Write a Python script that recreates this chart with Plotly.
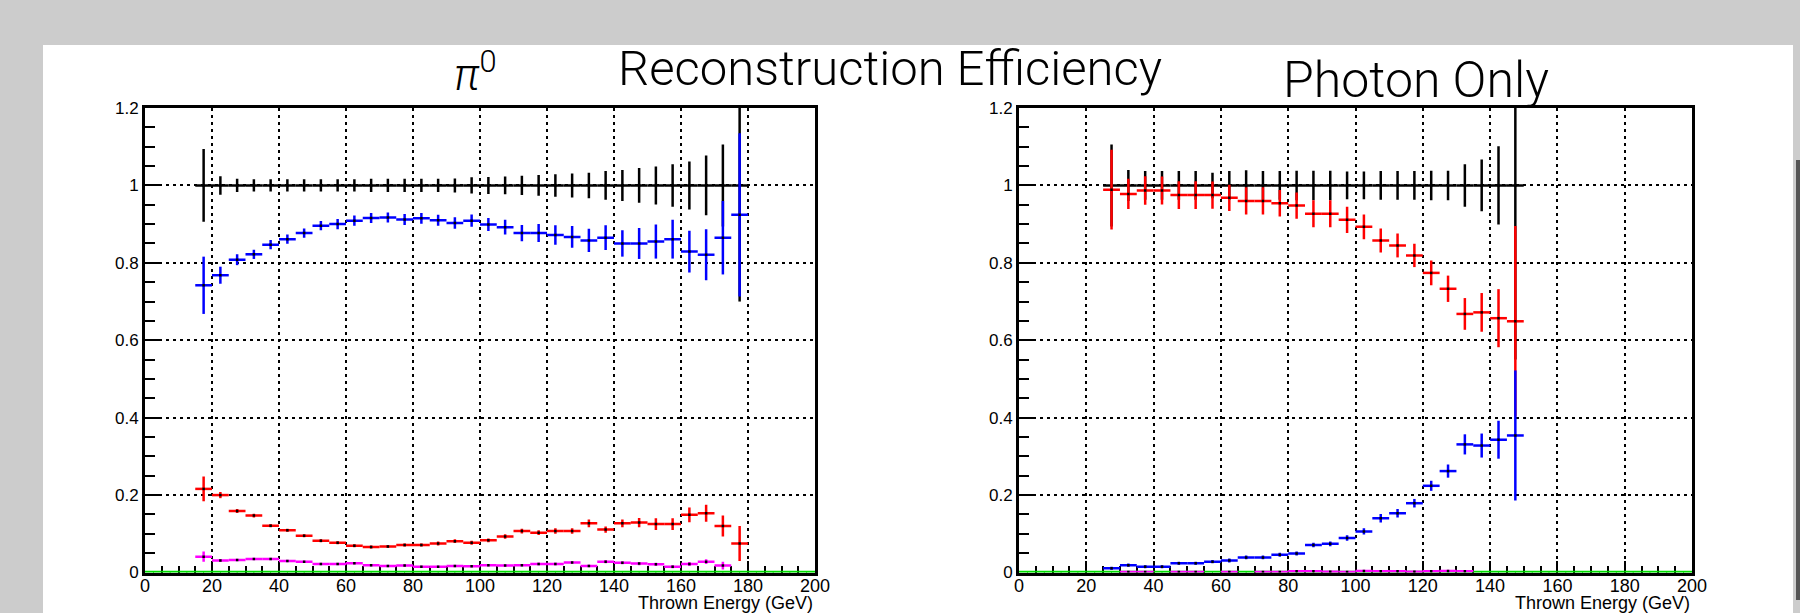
import plotly.graph_objects as go

# ---------------- data ----------------
left_x = [17.5, 22.5, 27.5, 32.5, 37.5, 42.5, 47.5, 52.5, 57.5, 62.5, 67.5, 72.5, 77.5, 82.5, 87.5,
          92.5, 97.5, 102.5, 107.5, 112.5, 117.5, 122.5, 127.5, 132.5, 137.5, 142.5, 147.5, 152.5,
          157.5, 162.5, 167.5, 172.5, 177.5]
left_black = [1.0] * 33
left_black_err = [0.094, 0.024, 0.017, 0.016, 0.016, 0.016, 0.016, 0.016, 0.016, 0.016, 0.017, 0.017,
                  0.017, 0.017, 0.017, 0.018, 0.021, 0.022, 0.023, 0.025, 0.027, 0.029, 0.031, 0.033,
                  0.037, 0.040, 0.045, 0.049, 0.055, 0.062, 0.077, 0.106, 0.30]
left_blue = [0.742, 0.768, 0.808, 0.822, 0.847, 0.861, 0.877, 0.896, 0.900, 0.909, 0.916, 0.917, 0.912,
             0.915, 0.910, 0.903, 0.909, 0.899, 0.892, 0.877, 0.877, 0.872, 0.867, 0.858, 0.865, 0.850,
             0.850, 0.855, 0.861, 0.829, 0.821, 0.865, 0.924]
left_blue_err = [0.074, 0.022, 0.014, 0.012, 0.012, 0.012, 0.012, 0.012, 0.013, 0.013, 0.013, 0.013,
                 0.014, 0.014, 0.014, 0.015, 0.016, 0.017, 0.019, 0.021, 0.023, 0.025, 0.028, 0.030,
                 0.032, 0.034, 0.040, 0.044, 0.050, 0.054, 0.066, 0.095, 0.211]
left_red = [0.216, 0.200, 0.159, 0.147, 0.121, 0.109, 0.095, 0.082, 0.077, 0.069, 0.066, 0.067, 0.071,
            0.071, 0.075, 0.081, 0.077, 0.083, 0.093, 0.107, 0.103, 0.107, 0.107, 0.127, 0.111, 0.127,
            0.129, 0.125, 0.125, 0.149, 0.153, 0.120, 0.075]
left_red_err = [0.032, 0.008, 0.005, 0.005, 0.004, 0.004, 0.004, 0.004, 0.004, 0.004, 0.004, 0.004,
                0.004, 0.004, 0.005, 0.005, 0.005, 0.005, 0.006, 0.006, 0.006, 0.007, 0.007, 0.010,
                0.008, 0.010, 0.012, 0.015, 0.015, 0.019, 0.022, 0.027, 0.045]
left_mag_x = left_x[:32]
left_mag = [0.041, 0.031, 0.032, 0.035, 0.035, 0.030, 0.028, 0.022, 0.022, 0.024, 0.019, 0.017, 0.018,
            0.015, 0.015, 0.017, 0.016, 0.019, 0.018, 0.019, 0.022, 0.022, 0.026, 0.017, 0.028, 0.025,
            0.023, 0.021, 0.015, 0.022, 0.028, 0.018]
left_mag_err = [0.013, 0.003, 0.002, 0.002, 0.002, 0.002, 0.002, 0.002, 0.002, 0.002, 0.002, 0.002,
                0.002, 0.002, 0.002, 0.002, 0.002, 0.002, 0.002, 0.002, 0.003, 0.003, 0.003, 0.003,
                0.004, 0.004, 0.004, 0.004, 0.004, 0.005, 0.006, 0.010]

right_x = [27.5, 32.5, 37.5, 42.5, 47.5, 52.5, 57.5, 62.5, 67.5, 72.5, 77.5, 82.5, 87.5, 92.5, 97.5,
           102.5, 107.5, 112.5, 117.5, 122.5, 127.5, 132.5, 137.5, 142.5, 147.5]
right_black = [1.0] * 25
right_black_err = [0.106, 0.040, 0.037, 0.037, 0.037, 0.037, 0.033, 0.037, 0.039, 0.037, 0.037, 0.038,
                   0.038, 0.038, 0.036, 0.036, 0.037, 0.037, 0.037, 0.038, 0.038, 0.055, 0.067, 0.101,
                   0.45]
right_red = [0.989, 0.978, 0.987, 0.987, 0.975, 0.975, 0.975, 0.968, 0.960, 0.960, 0.954, 0.948, 0.927,
             0.927, 0.911, 0.893, 0.858, 0.845, 0.819, 0.774, 0.733, 0.668, 0.672, 0.657, 0.649]
right_red_err = [0.103, 0.039, 0.037, 0.036, 0.036, 0.036, 0.035, 0.034, 0.035, 0.035, 0.034, 0.034,
                 0.035, 0.035, 0.034, 0.032, 0.031, 0.031, 0.030, 0.032, 0.034, 0.041, 0.050, 0.075,
                 0.246]
right_blue = [0.011, 0.019, 0.015, 0.015, 0.024, 0.024, 0.028, 0.031, 0.039, 0.039, 0.046, 0.049, 0.071,
              0.074, 0.089, 0.106, 0.140, 0.153, 0.179, 0.224, 0.262, 0.331, 0.328, 0.343, 0.354]
right_blue_err = [0.004, 0.004, 0.004, 0.004, 0.004, 0.004, 0.004, 0.005, 0.005, 0.005, 0.005, 0.005,
                  0.006, 0.006, 0.007, 0.008, 0.011, 0.011, 0.011, 0.013, 0.017, 0.026, 0.031, 0.049,
                  0.168]
right_mag_x = [32.5, 37.5, 47.5, 52.5, 62.5, 72.5, 77.5, 82.5, 87.5, 92.5, 97.5, 102.5, 107.5, 112.5,
               117.5, 122.5, 127.5, 132.5]
right_mag = [0.001, 0.001, 0.001, 0.001, 0.001, 0.001, 0.001, 0.003, 0.003, 0.002, 0.001, 0.004, 0.003,
             0.003, 0.002, 0.003, 0.004, 0.003]

green_x = [2.5 + 5 * i for i in range(40)]
green_vals = [0.0] * 40

x_ticks = [0, 20, 40, 60, 80, 100, 120, 140, 160, 180, 200]
y_ticks = [0, 0.2, 0.4, 0.6, 0.8, 1.0, 1.2]
y_ticklabels = ["0", "0.2", "0.4", "0.6", "0.8", "1", "1.2"]

title_left = "<i>π</i><sup>0</sup>"
title_mid = "Reconstruction Efficiency"
title_right = "Photon Only"
x_title = "Thrown Energy (GeV)"

# ---------------- figure ----------------
W, H = 1800, 613
FONT = "Liberation Sans, Arial, Helvetica, sans-serif"
TITLE_FONT = "Roboto, Liberation Sans, Arial, sans-serif"


def px(X):
    return X / W


def py(Y):
    return 1 - Y / H


fig = go.Figure()


def hist_trace(x, y, err, color, xa, ya, thick=2.5, clip=True):
    return go.Scatter(
        x=x, y=y, mode="markers", xaxis=xa, yaxis=ya, showlegend=False, hoverinfo="skip",
        cliponaxis=clip,
        marker=dict(size=2.5, color="black", symbol="square"),
        error_x=dict(type="data", array=[2.5] * len(x), width=0, thickness=thick, color=color),
        error_y=dict(type="data", array=err, width=0, thickness=thick, color=color),
    )


for xa, ya in [("x", "y"), ("x2", "y2")]:
    fig.add_trace(go.Scatter(
        x=green_x, y=green_vals, mode="markers", xaxis=xa, yaxis=ya, showlegend=False,
        hoverinfo="skip", cliponaxis=False, marker=dict(size=1, color="#00dd00"),
        error_x=dict(type="data", array=[2.5] * len(green_x), width=0, thickness=3.5, color="#00dd00"),
    ))

# left panel
fig.add_trace(hist_trace(left_x, left_black, left_black_err, "black", "x", "y"))
fig.add_trace(hist_trace(left_x, left_red, left_red_err, "#ff0000", "x", "y"))
fig.add_trace(hist_trace(left_x, left_blue, left_blue_err, "#0000ff", "x", "y"))
fig.add_trace(hist_trace(left_mag_x, left_mag, left_mag_err, "#ff00ff", "x", "y"))

# right panel
fig.add_trace(hist_trace(right_x, right_black, right_black_err, "black", "x2", "y2"))
fig.add_trace(hist_trace(right_x, right_red, right_red_err, "#ff0000", "x2", "y2"))
fig.add_trace(hist_trace(right_x, right_blue, right_blue_err, "#0000ff", "x2", "y2"))
fig.add_trace(hist_trace(right_mag_x, right_mag, [0.0005] * len(right_mag_x), "#ff00ff", "x2", "y2"))

ydom = [py(572.5), py(108)]
xdom_l = [px(145), px(815)]
xdom_r = [px(1019), px(1692)]

common = dict(
    showline=True, linewidth=3, linecolor="black", mirror=True,
    ticks="inside", tickwidth=2, tickcolor="black",
    showgrid=True, gridcolor="black", gridwidth=2.2, griddash="3px,4px",
    zeroline=False, layer="below traces", fixedrange=True, automargin=False,
)


def xaxis(dom, anchor):
    return dict(common, domain=dom, anchor=anchor, range=[0, 200], tickvals=x_ticks, ticklen=12,
                ticklabelstandoff=-5,
                tickfont=dict(family=FONT, size=18, color="black"),
                minor=dict(dtick=5, tick0=0, ticks="inside", ticklen=7, tickwidth=2,
                           tickcolor="black", showgrid=False))


def yaxis(anchor):
    return dict(common, domain=ydom, anchor=anchor, range=[0, 1.2], tickvals=y_ticks,
                ticktext=y_ticklabels, ticklen=14,
                tickfont=dict(family=FONT, size=17, color="black"),
                minor=dict(dtick=0.05, tick0=0, ticks="inside", ticklen=10, tickwidth=2,
                           tickcolor="black", showgrid=False))


fig.update_layout(
    template="none",
    width=W, height=H, autosize=False,
    margin=dict(l=0, r=0, t=0, b=0, pad=0, autoexpand=False),
    paper_bgcolor="#cccccc", plot_bgcolor="white",
    xaxis=xaxis(xdom_l, "y"), yaxis=yaxis("x"),
    xaxis2=xaxis(xdom_r, "y2"), yaxis2=yaxis("x2"),
    shapes=[
        dict(type="rect", xref="paper", yref="paper", x0=px(43), x1=px(1793), y0=-0.05, y1=py(45),
             fillcolor="white", line=dict(width=0), layer="below"),
        dict(type="rect", xref="paper", yref="paper", x0=px(1796), x1=1.0, y0=py(600),
             y1=py(160), fillcolor="#555555", line=dict(width=0), layer="below"),
    ],
    annotations=[
        dict(text=title_left, x=px(475), y=py(72), xref="paper", yref="paper",
             xanchor="center", yanchor="middle", showarrow=False,
             font=dict(family=TITLE_FONT, size=44, color="black", weight=300)),
        dict(text=title_mid, x=px(890), y=py(68), xref="paper", yref="paper",
             xanchor="center", yanchor="middle", showarrow=False,
             font=dict(family=TITLE_FONT, size=49, color="black", weight=300)),
        dict(text=title_right, x=px(1415.5), y=py(80), xref="paper", yref="paper",
             xanchor="center", yanchor="middle", showarrow=False,
             font=dict(family=TITLE_FONT, size=50, color="black", weight=300)),
        dict(text=x_title, x=px(815), y=py(603), xref="paper", yref="paper",
             xanchor="right", yanchor="middle", showarrow=False,
             font=dict(family=FONT, size=18, color="black")),
        dict(text=x_title, x=px(1692), y=py(603), xref="paper", yref="paper",
             xanchor="right", yanchor="middle", showarrow=False,
             font=dict(family=FONT, size=18, color="black")),
    ],
)

fig.write_html("out.html", post_script="document.body.style.background='#cccccc';")
